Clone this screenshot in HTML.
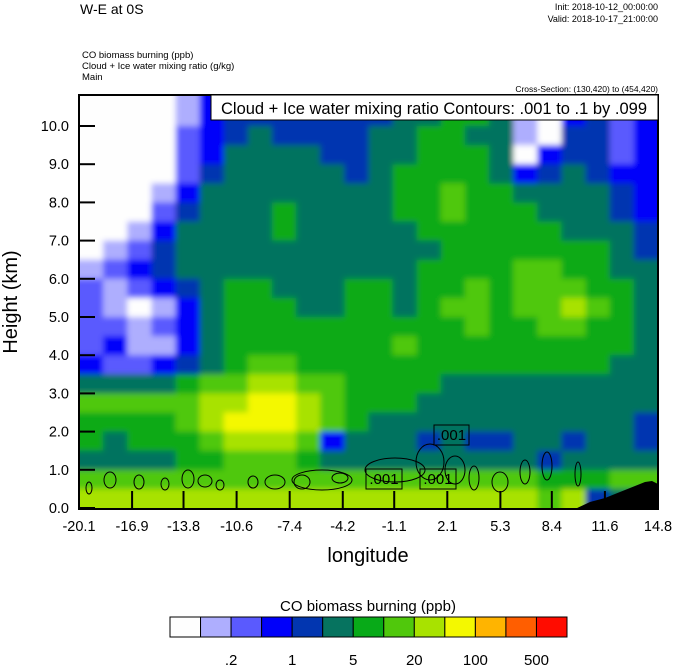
<!DOCTYPE html>
<html><head><meta charset="utf-8"><style>
body{margin:0;background:#fff;width:674px;height:667px;overflow:hidden;font-family:"Liberation Sans",sans-serif}
svg text{font-family:"Liberation Sans",sans-serif}
</style></head><body>
<svg id="chart" width="674" height="667">
<defs>
<clipPath id="pc"><rect x="79" y="95" width="579" height="414"/></clipPath>
<filter id="bl" filterUnits="userSpaceOnUse" x="60" y="80" width="620" height="450"><feGaussianBlur stdDeviation="3"/></filter>
</defs>
<text x="80" y="14" font-size="14">W-E at 0S</text>
<text x="658" y="10" font-size="9" text-anchor="end">Init: 2018-10-12_00:00:00</text>
<text x="658" y="22" font-size="9" text-anchor="end">Valid: 2018-10-17_21:00:00</text>
<text x="82" y="58" font-size="9.5">CO biomass burning   (ppb)</text>
<text x="82" y="69" font-size="9.5">Cloud + Ice water mixing ratio   (g/kg)</text>
<text x="82" y="80" font-size="9.5">Main</text>
<text x="658" y="92" font-size="8.5" text-anchor="end">Cross-Section: (130,420) to (454,420)</text>
<g id="field" clip-path="url(#pc)"><g id="cells" filter="url(#bl)"></g></g>
<g id="overlay" clip-path="url(#pc)"></g>
<rect x="79" y="95" width="579" height="414" fill="none" stroke="#000" stroke-width="2"/>
<g id="axes"></g>
<rect x="211" y="95" width="447" height="25" fill="#fff" stroke="#000"/>
<text x="434" y="114" font-size="16.5" text-anchor="middle">Cloud + Ice water mixing ratio Contours: .001 to .1 by .099</text>
<text transform="translate(17,302) rotate(-90)" font-size="20" text-anchor="middle">Height (km)</text>
<text x="368" y="562" font-size="20" text-anchor="middle">longitude</text>
<text x="368" y="611" font-size="15" text-anchor="middle">CO biomass burning  (ppb)</text>
<g id="cbar"></g>
</svg>
<script>
const colors=["#fefefe","#aeaefe","#5a5afe","#0000fa","#0236b0","#06735f","#08aa18","#50c80c","#a8e200","#f4f800","#ffb400","#ff5e00","#ff0c00"];
const cbarLabels=[".2","1","5","20","100","500"];
const xTicks=[-20.1,-16.9,-13.8,-10.6,-7.4,-4.2,-1.1,2.1,5.3,8.4,11.6,14.8];
const yTicks=[0,1,2,3,4,5,6,7,8,9,10];
const levelGrid=[
[0,0,0,0,1,3,3,4,3,4,3,3,4,4,5,5,5,5,1,0,0,4,2,3],
[0,0,0,0,1,3,4,4,4,4,4,4,4,5,5,6,6,5,1,0,3,4,2,3],
[0,0,0,0,2,3,4,5,4,4,4,4,5,5,6,6,5,5,1,0,4,4,2,3],
[0,0,0,0,2,3,5,5,5,5,4,4,5,5,6,6,6,5,0,3,4,4,2,3],
[0,0,0,0,2,4,5,5,5,5,5,4,5,6,6,6,6,5,3,4,5,4,3,3],
[0,0,0,1,3,5,5,5,5,5,5,5,5,6,6,7,6,6,5,5,5,5,4,3],
[0,0,0,2,4,5,5,5,6,5,5,5,5,6,6,7,6,6,6,5,5,5,4,3],
[0,0,1,3,5,5,5,5,6,5,5,5,5,5,6,6,6,6,6,6,5,5,5,4],
[0,1,2,4,5,5,5,5,5,5,5,5,5,5,5,6,6,6,6,6,6,6,5,4],
[1,2,3,4,5,5,5,5,5,5,5,5,5,5,6,6,6,6,7,7,6,6,5,5],
[2,1,2,3,4,5,6,6,5,5,5,6,6,5,6,6,7,6,7,7,7,6,6,5],
[2,1,0,1,3,5,6,6,6,5,5,6,6,5,6,7,7,6,7,7,8,7,6,5],
[2,2,1,2,3,5,6,6,6,6,6,6,6,6,6,6,7,6,6,7,7,6,6,5],
[2,3,1,1,3,5,6,6,6,6,6,6,6,7,6,6,6,6,6,6,6,6,6,5],
[3,2,2,3,4,5,6,7,7,6,6,6,6,6,6,6,6,6,6,6,6,6,5,5],
[5,5,5,5,6,7,7,8,8,7,7,6,6,6,6,5,5,5,5,5,5,5,5,5],
[7,7,7,7,7,8,8,9,9,8,7,6,6,6,5,5,5,5,5,5,5,5,5,5],
[6,6,6,6,7,8,9,9,9,8,7,6,5,5,5,5,5,5,5,5,5,5,5,4],
[6,5,6,6,6,7,8,8,8,7,3,5,5,5,4,5,4,4,5,5,4,5,5,4],
[5,5,5,5,6,6,7,7,7,6,5,5,5,5,5,5,5,5,5,4,5,5,5,5],
[7,7,7,7,7,7,7,7,7,7,7,7,7,7,7,7,7,7,7,6,6,6,7,7],
[8,8,8,8,8,8,8,8,8,8,8,8,8,8,8,8,8,8,8,7,8,4,5,5]];
const rowTops=[10.84,10.5,10,9.5,9,8.5,8,7.5,7,6.5,6,5.5,5,4.5,4,3.5,3,2.5,2,1.5,1,0.5];
const X0=79,X1=658,Y0=509,Y1=95;
const xs=v=>X0+(v+20.1)/(34.9)*(X1-X0);
const ys=h=>508-h*38.2;
const NS="http://www.w3.org/2000/svg";
function mk(t,a,p){const e=document.createElementNS(NS,t);for(const k in a)e.setAttribute(k,a[k]);(p||document.getElementById('chart')).appendChild(e);return e;}
const cells=document.getElementById('cells');
const nc=levelGrid[0].length, cw=(X1-X0)/nc;
levelGrid.forEach((row,r)=>{row.forEach((lv,c)=>{
 const top=r===0?Y1-6:ys(rowTops[r]);
 const bot=r===levelGrid.length-1?Y0+6:ys(rowTops[r+1]);
 const x=c===0?X0-6:X0+c*cw, w=c===nc-1?cw+12:(c===0?cw+6:cw);
 const el=mk('rect',{x:x,y:top,width:w+0.5,height:bot-top+0.5,fill:colors[lv]},cells);
 
 
});});
const ov=document.getElementById('overlay');
const ter=mk('polygon',{points:"575,509 590,502 605,498 615,494 625,490 635,486 645,482 652,481 658,484 658,509",fill:"#000"},ov);


const blobs=[[110,480,6,8],[139,482,5,7],[165,484,4,6],[188,479,6,9],[205,481,7,6],[220,485,4,5],[253,482,5,6],[275,482,10,7],[302,482,8,7],[322,480,30,10],[340,478,8,5],[395,470,30,12],[430,462,14,18],[455,470,10,14],[474,478,5,12],[500,482,8,10],[525,472,5,12],[547,466,5,14],[578,474,3,12],[89,488,3,6]];
blobs.forEach(b=>{const e=mk('ellipse',{cx:b[0],cy:b[1],rx:b[2],ry:b[3],fill:"none",stroke:"#000","stroke-width":1},ov);

});
[[366,469,36,20],[420,469,36,20],[434,425,35,20]].forEach(b=>{
 const r=mk('rect',{x:b[0],y:b[1],width:b[2],height:b[3],fill:"none",stroke:"#000"},ov);
 
 
 const t=mk('text',{x:b[0]+b[2]/2,y:b[1]+15,"font-size":15,"text-anchor":"middle"},ov);
 t.textContent='.001';
 
 
});
const ax=document.getElementById('axes');


yTicks.forEach(v=>{const y=ys(v);
 const l=mk('line',{x1:79,x2:95,y1:y,y2:y,stroke:"#000","stroke-width":2},ax);
 
 
 const t=mk('text',{x:69,y:y+5,"font-size":14.5,"text-anchor":"end"},ax);t.textContent=v.toFixed(1);
 
 });
xTicks.forEach(v=>{const x=xs(v);
 const l=mk('line',{x1:x,x2:x,y1:509,y2:491,stroke:"#000","stroke-width":2},ax);
 
 
 const t=mk('text',{x:x,y:531,"font-size":14.5,"text-anchor":"middle"},ax);t.textContent=v.toFixed(1);
 
 });
const cb=document.getElementById('cbar');const bw=(567-170)/colors.length;
colors.forEach((c,i)=>{const r=mk('rect',{x:170+i*bw,y:617,width:bw,height:20,fill:c,stroke:"#000","stroke-width":1},cb);
 
 });
cbarLabels.forEach((s,i)=>{const t=mk('text',{x:170+(2+2*i)*bw,y:665,"font-size":15,"text-anchor":"middle"},cb);t.textContent=s;
 
 });
</script>
</body></html>
